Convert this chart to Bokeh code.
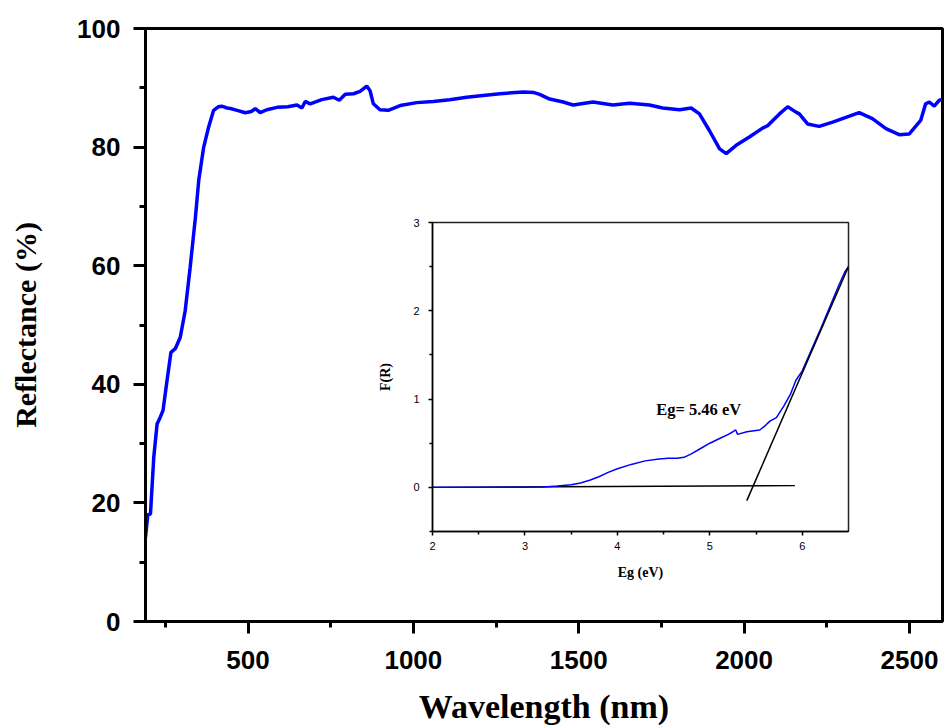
from bokeh.plotting import figure
from bokeh.models import FixedTicker, Label
from bokeh.layouts import column
from bokeh.embed import file_html
from bokeh.resources import INLINE

# ---------------- main spectrum data ----------------
wavelength = [190, 197, 205, 215, 225, 235, 243, 255, 267, 280, 295, 310, 325, 341, 351, 366, 381,
              396, 410, 420, 437, 447, 467, 492, 510, 522, 537, 557, 588, 620, 648, 663, 673, 688,
              723, 758, 776, 794, 819, 839, 859, 869, 879, 899, 924, 960, 1010, 1060, 1110, 1161,
              1211, 1262, 1332, 1365, 1382, 1412, 1453, 1483, 1543, 1603, 1654, 1714, 1754, 1805,
              1840, 1865, 1895, 1926, 1946, 1976, 2016, 2056, 2071, 2107, 2132, 2157, 2167, 2192,
              2227, 2268, 2308, 2348, 2388, 2429, 2469, 2499, 2534, 2549, 2560, 2575, 2590, 2598]
reflectance = [14.2, 18.0, 18.1, 27.7, 33.3, 34.5, 35.6, 40.6, 45.4, 46.0, 47.9, 52.4, 59.7, 68.2,
               74.4, 80.0, 83.4, 86.2, 86.8, 86.9, 86.6, 86.5, 86.2, 85.8, 86.0, 86.5, 85.8, 86.3,
               86.7, 86.8, 87.1, 86.6, 87.7, 87.3, 88.0, 88.4, 87.9, 88.9, 89.0, 89.4, 90.3, 89.5,
               87.3, 86.3, 86.2, 87.0, 87.5, 87.7, 88.0, 88.4, 88.7, 89.0, 89.3, 89.2, 88.9, 88.1,
               87.6, 87.1, 87.6, 87.1, 87.4, 87.1, 86.6, 86.3, 86.6, 85.6, 82.8, 79.7, 78.9, 80.3,
               81.7, 83.2, 83.6, 85.6, 86.8, 85.9, 85.6, 83.9, 83.5, 84.2, 85.0, 85.8, 84.8, 83.1,
               82.1, 82.2, 84.5, 87.3, 87.6, 86.9, 87.9, 88.0]
x_major = [500, 1000, 1500, 2000, 2500]
x_minor = [250, 750, 1250, 1750, 2250]
y_major = [0, 20, 40, 60, 80, 100]
y_minor = [10, 30, 50, 70, 90]

# ---------------- inset (Kubelka-Munk) data ----------------
eg = [2.0, 2.5, 3.0, 3.2, 3.35, 3.5, 3.6, 3.7, 3.8, 3.9, 4.0, 4.15, 4.3, 4.45, 4.55, 4.65, 4.72,
      4.8, 4.9, 5.0, 5.1, 5.2, 5.25, 5.28, 5.3, 5.4, 5.54, 5.6, 5.65, 5.72, 5.8, 5.87, 5.93, 6.0,
      6.1, 6.2, 6.3, 6.4, 6.46, 6.5]
fr = [0.0, 0.0, 0.0, 0.005, 0.015, 0.03, 0.05, 0.08, 0.12, 0.17, 0.21, 0.26, 0.30, 0.32, 0.33,
      0.33, 0.34, 0.38, 0.44, 0.50, 0.55, 0.60, 0.63, 0.65, 0.60, 0.63, 0.65, 0.70, 0.75, 0.79,
      0.92, 1.05, 1.21, 1.32, 1.56, 1.80, 2.05, 2.30, 2.44, 2.50]
base_x = [2.0, 5.92]
base_y = [0.0, 0.02]
tan_x = [5.40, 6.50]
tan_y = [-0.15, 2.50]
inset_x_major = [2, 3, 4, 5, 6]
inset_x_minor = [2.5, 3.5, 4.5, 5.5]
inset_y_major = [0, 1, 2, 3]
inset_y_minor = [-0.5, 0.5, 1.5, 2.5]
eg_text = "Eg= 5.46 eV"
eg_text_pos = (4.42, 0.88)

SANS = "Liberation Sans"
SERIF = "Liberation Serif"

LEFT, RIGHT = 145, 6   # shared frame borders (column layouts align them)

# ---------------- main figure ----------------
p = figure(width=948, height=728, x_range=(190, 2600), y_range=(0, 100),
           output_backend="svg", toolbar_location=None,
           min_border_left=LEFT, min_border_right=RIGHT, min_border_top=28, min_border_bottom=107)
p.grid.visible = False
p.outline_line_color = "black"
p.outline_line_width = 3
p.outline_line_alpha = 1
p.line(wavelength, reflectance, line_color="#0000ff", line_width=3.5)

p.xaxis.ticker = FixedTicker(ticks=x_major, minor_ticks=x_minor)
p.yaxis.ticker = FixedTicker(ticks=y_major, minor_ticks=y_minor)
p.xaxis.axis_label = "Wavelength (nm)"
p.yaxis.axis_label = "Reflectance (%)"
for ax in (p.xaxis[0], p.yaxis[0]):
    ax.axis_line_width = 3
    ax.axis_line_color = "black"
    ax.major_tick_line_width = 3
    ax.minor_tick_line_width = 3
    ax.major_tick_line_color = "black"
    ax.minor_tick_line_color = "black"
    ax.major_tick_in = 0
    ax.major_tick_out = 12
    ax.minor_tick_in = 0
    ax.minor_tick_out = 6
    ax.major_label_text_font = SANS
    ax.major_label_text_font_style = "bold"
    ax.major_label_text_font_size = "26px"
    ax.major_label_text_color = "black"
    ax.axis_label_text_font = SERIF
    ax.axis_label_text_font_style = "bold"
    ax.axis_label_text_color = "black"
p.xaxis.major_label_standoff = 17
p.xaxis.axis_label_standoff = 16
p.xaxis.axis_label_text_font_size = "34px"
p.yaxis.major_label_standoff = 13
p.yaxis.axis_label_standoff = 32
p.yaxis.axis_label_text_font_size = "30px"

# ---------------- inset figure ----------------
ins = figure(width=LEFT + 416 + RIGHT, height=381, x_range=(2, 6.5), y_range=(-0.5, 3),
             output_backend="svg", toolbar_location=None,
             min_border_left=LEFT, min_border_right=RIGHT, min_border_top=12, min_border_bottom=60,
             background_fill_alpha=0, border_fill_alpha=0,
             styles={"position": "absolute", "left": f"{432 - LEFT}px", "top": "210px"})
ins.grid.visible = False
ins.outline_line_color = "#222222"
ins.outline_line_width = 1.5
ins.outline_line_alpha = 1
ins.line(base_x, base_y, line_color="black", line_width=1.3)
ins.line(eg, fr, line_color="#0000ff", line_width=1.5)
ins.line(tan_x, tan_y, line_color="black", line_width=1.5)
ins.add_layout(Label(x=eg_text_pos[0], y=eg_text_pos[1], text=eg_text,
                     text_font=SERIF, text_font_style="bold", text_font_size="16.5px",
                     text_baseline="middle", text_color="black"))

ins.xaxis.ticker = FixedTicker(ticks=inset_x_major, minor_ticks=inset_x_minor)
ins.yaxis.ticker = FixedTicker(ticks=inset_y_major, minor_ticks=inset_y_minor)
ins.xaxis.axis_label = "Eg (eV)"
ins.yaxis.axis_label = "F(R)"
for ax in (ins.xaxis[0], ins.yaxis[0]):
    ax.axis_line_width = 1.5
    ax.axis_line_color = "black"
    ax.major_tick_line_width = 1.5
    ax.minor_tick_line_width = 1.5
    ax.major_tick_line_color = "black"
    ax.minor_tick_line_color = "black"
    ax.major_tick_in = 0
    ax.major_tick_out = 4
    ax.minor_tick_in = 0
    ax.minor_tick_out = 3
    ax.major_label_text_font = SANS
    ax.major_label_text_font_size = "11px"
    ax.major_label_text_color = "black"
    ax.axis_label_text_font = SERIF
    ax.axis_label_text_font_style = "bold"
    ax.axis_label_text_font_size = "14px"
    ax.axis_label_text_color = "black"
ins.xaxis.major_label_standoff = 6
ins.yaxis.major_label_standoff = 9
ins.xaxis.axis_label_standoff = 12
ins.yaxis.axis_label_standoff = 17

layout = column(p, ins, styles={"position": "relative"})

open("out.html", "w").write(file_html(layout, INLINE))
